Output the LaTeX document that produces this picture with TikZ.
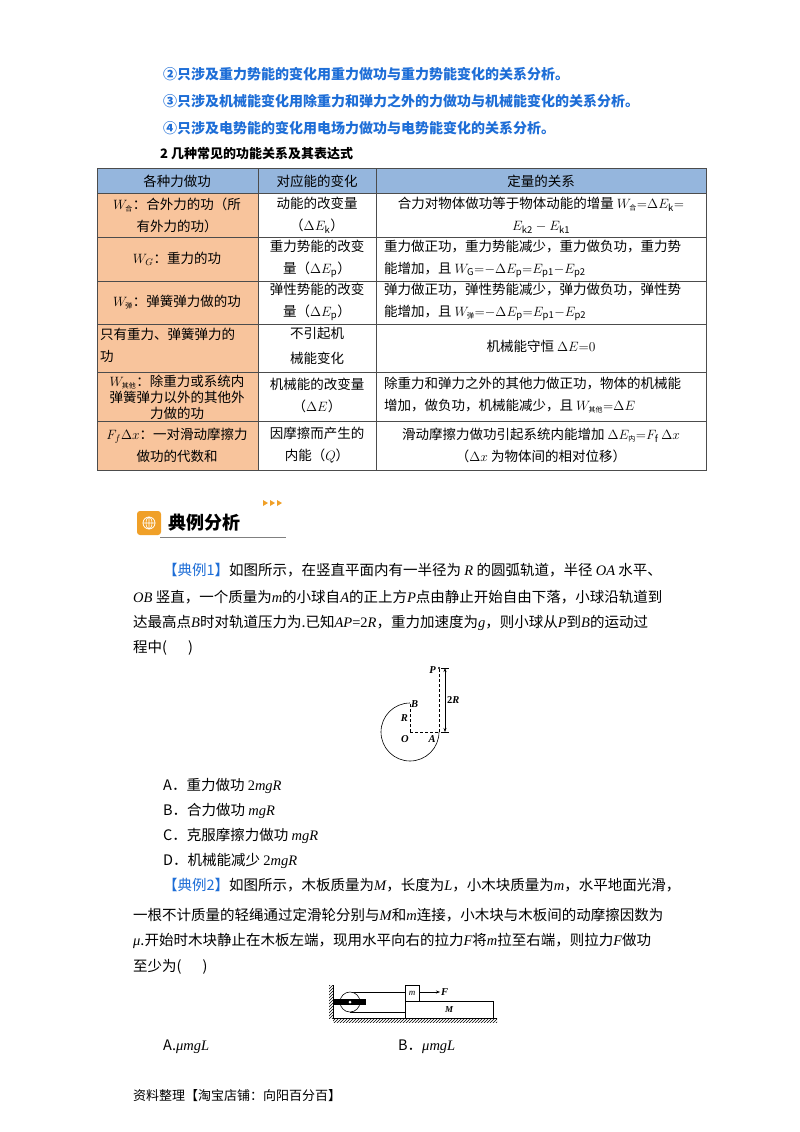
\RequirePackage{fix-cm}
\documentclass[tikz,border=0pt]{standalone}
\usepackage{fontspec}
\setmainfont{Noto Sans CJK SC}
\newfontfamily\tms{Liberation Serif}
\usetikzlibrary{patterns,arrows.meta}
\definecolor{blu}{RGB}{30,110,215}
\definecolor{hdr}{RGB}{149,182,221}
\definecolor{org}{RGB}{248,196,156}
\definecolor{badge}{RGB}{240,160,40}
\newcommand\cs[1]{\mbox{\fontsize{7}{7}\selectfont #1}}
\newcommand\iv[1]{{\tms\itshape #1}}
\newcommand\rv[1]{{\tms #1}}
\newcommand\bodyf{\fontsize{14.5}{18}\selectfont}
\newcommand\tabf{\fontsize{13.5}{22}\selectfont}
\tikzset{
 ln/.style={anchor=base west,inner sep=0pt,font=\bodyf},
 bl/.style={anchor=base west,inner sep=0pt,font=\fontsize{14}{18}\selectfont\bfseries,text=blu},
 cc/.style={align=center,inner sep=0pt,font=\tabf},
 cl/.style={align=left,inner sep=0pt,font=\tabf,anchor=west},
 dsh/.style={densely dashed,line width=0.6pt},
 fig/.style={font=\tms\fontsize{10.5}{12}\selectfont\bfseries\itshape,inner sep=1pt}
}
\begin{document}
\begin{tikzpicture}[x=1pt,y=-1pt]
\useasboundingbox[fill=white] (0,0) rectangle (800,1132);
% header lines
\node[bl] (h2) at (163,79) {②只涉及重力势能的变化用重力做功与重力势能变化的关系分析。};
\node[bl] (h3) at (163,106) {③只涉及机械能变化用除重力和弹力之外的力做功与机械能变化的关系分析。};
\node[bl] (h4) at (163,133) {④只涉及电势能的变化用电场力做功与电势能变化的关系分析。};
\node[anchor=base west,inner sep=0pt,font=\fontsize{13}{16}\selectfont\bfseries] (t2) at (160,158) {2 几种常见的功能关系及其表达式};
% table
\fill[hdr] (97,168) rectangle (706,193);
\fill[org] (97,193) rectangle (258,470);
\draw[line width=0.5pt,gray!60!black] (97,168) rectangle (706,470);
\foreach \y in {193,237,281,324,372,421} \draw[line width=0.5pt,gray!60!black] (97,\y)--(706,\y);
\foreach \x in {258,376} \draw[line width=0.5pt,gray!60!black] (\x,168)--(\x,470);
\node[cc] (a0) at (177,181) {各种力做功};
\node[cc] (b0) at (317,181) {对应能的变化};
\node[cc] (c0) at (541,181) {定量的关系};
\node[cc] (a1) at (177,215) {$W_{\cs{合}}$：合外力的功（所\\有外力的功）};
\node[cc] (b1) at (317,215) {动能的改变量\\（$\Delta E_{\rm k}$）};
\node[cc] (c1) at (541,215) {合力对物体做功等于物体动能的增量 $W_{\cs{合}}{=}\Delta E_{\rm k}{=}$\\$E_{\rm k2}-E_{\rm k1}$};
\node[cc] (a2) at (177,259) {$W_G$：重力的功};
\node[cc] (b2) at (317,259) {重力势能的改变\\量（$\Delta E_{\rm p}$）};
\node[cl] (c2) at (384,259) {重力做正功，重力势能减少，重力做负功，重力势\\能增加，且 $W_{\rm G}{=}{-}\Delta E_{\rm p}{=}E_{\rm p1}{-}E_{\rm p2}$};
\node[cc] (a3) at (177,302) {$W_{\cs{弹}}$：弹簧弹力做的功};
\node[cc] (b3) at (317,302) {弹性势能的改变\\量（$\Delta E_{\rm p}$）};
\node[cl] (c3) at (384,302) {弹力做正功，弹性势能减少，弹力做负功，弹性势\\能增加，且 $W_{\cs{弹}}{=}{-}\Delta E_{\rm p}{=}E_{\rm p1}{-}E_{\rm p2}$};
\node[cl] (a4) at (100,345) {只有重力、弹簧弹力的\\功};
\node[cc,font=\fontsize{13.5}{25}\selectfont] (b4) at (317,346) {不引起机\\械能变化};
\node[cc] (c4) at (541,346) {机械能守恒 $\Delta E{=}0$};
\node[cc,font=\fontsize{13.5}{16}\selectfont] (a5) at (177,397) {$W_{\cs{其他}}$：除重力或系统内\\弹簧弹力以外的其他外\\力做的功};
\node[cc] (b5) at (317,395) {机械能的改变量\\（$\Delta E$）};
\node[cl] (c5) at (384,395) {除重力和弹力之外的其他力做正功，物体的机械能\\增加，做负功，机械能减少，且 $W_{\cs{其他}}{=}\Delta E$};
\node[cc] (a6) at (177,445) {$F_f\Delta x$：一对滑动摩擦力\\做功的代数和};
\node[cc] (b6) at (317,445) {因摩擦而产生的\\内能（$Q$）};
\node[cc] (c6) at (541,445) {滑动摩擦力做功引起系统内能增加 $\Delta E_{\cs{内}}{=}F_{\rm f}\ \Delta x$\\（$\Delta x$ 为物体间的相对位移）};
% badge
\fill[badge,rounded corners=3pt] (137,511) rectangle (161,535);
\draw[white,line width=0.8pt] (149,523) circle (6);
\draw[white,line width=0.6pt] (149,517)--(149,529) (143,523)--(155,523) (149,523) ellipse (3 and 6);
\node[anchor=west,inner sep=0pt,font=\fontsize{18}{20}\selectfont\bfseries] (bt) at (168,523) {典例分析};
\draw[gray,line width=1pt] (160,537)--(286,537);
\foreach \x in {263,270,277} \fill[badge] (\x,500)--(\x+5,503)--(\x,506)--cycle;
% example 1
\node[ln] (e1a) at (163,575) {{\color{blu}【典例1】}如图所示，在竖直平面内有一半径为 \iv{R} 的圆弧轨道，半径 \iv{OA} 水平、};
\node[ln] (e1b) at (133,602) {\iv{OB} 竖直，一个质量为\iv{m}的小球自\iv{A}的正上方\iv{P}点由静止开始自由下落，小球沿轨道到};
\node[ln] (e1c) at (133,627) {达最高点\iv{B}时对轨道压力为.已知\iv{AP}\rv{=2}\iv{R}，重力加速度为\iv{g}，则小球从\iv{P}到\iv{B}的运动过};
\node[ln] (e1d) at (133,652) {程中(\quad\ \ )};
% figure 1
\coordinate (O) at (410,732);
\coordinate (A) at (439,732);
\coordinate (B) at (410,703);
\coordinate (P) at (439,668);
\draw[line width=0.6pt] (B) arc[start angle=-90,end angle=-360,radius=29];
\draw[dsh] (O)--(B) (O)--(A) (A)--(P);
\fill (P) circle (1.2);
\draw[{Stealth[length=4pt]}-{Stealth[length=4pt]},line width=0.5pt] (445,668)--(445,732);
\draw[line width=0.5pt] (441,668)--(449,668) (441,732)--(449,732);
\node[fig,anchor=east] (pl) at (437,670) {P};
\node[fig,anchor=west] (bl) at (410,704) {B};
\node[fig,anchor=east] (rl) at (409,718) {R};
\node[fig,anchor=north east] (ol) at (410,734) {O};
\node[fig,anchor=north] (al) at (432,734) {A};
\node[fig,anchor=west,font=\tms\fontsize{10.5}{12}\selectfont\bfseries] (tr) at (446,700) {2\textit{R}};
% options
\node[ln] (oa) at (163,790) {A．重力做功 \rv{2}\iv{mgR}};
\node[ln] (ob) at (163,815) {B．合力做功 \iv{mgR}};
\node[ln] (oc) at (163,840) {C．克服摩擦力做功 \iv{mgR}};
\node[ln] (od) at (163,865) {D．机械能减少 \rv{2}\iv{mgR}};
% example 2
\node[ln] (e2a) at (163,890) {{\color{blu}【典例2】}如图所示，木板质量为\iv{M}，长度为\iv{L}，小木块质量为\iv{m}，水平地面光滑，};
\node[ln] (e2b) at (133,920) {一根不计质量的轻绳通过定滑轮分别与\iv{M}和\iv{m}连接，小木块与木板间的动摩擦因数为};
\node[ln] (e2c) at (133,945) {\iv{μ}.开始时木块静止在木板左端，现用水平向右的拉力\iv{F}将\iv{m}拉至右端，则拉力\iv{F}做功};
\node[ln] (e2d) at (133,971) {至少为(\quad\ \ )};
% figure 2
\fill[pattern=north east lines] (333,1018) rectangle (497,1022);
\draw[line width=0.6pt] (333,1018)--(497,1018);
\fill[pattern=north east lines] (329,985) rectangle (333,1018);
\draw[line width=0.6pt] (333,985)--(333,1018);
\draw[line width=0.6pt] (405,1001) rectangle (493,1018);
\draw[line width=0.6pt] (405,985) rectangle (419,1001);
\draw[line width=0.5pt] (350,992)--(405,992) (350,1012)--(405,1012);
\fill[white] (350,1002) circle (10);
\draw[line width=0.6pt] (350,1002) circle (10);
\fill (334,999) rectangle (366,1005);
\fill[white] (350,1002) circle (1.5);
\node[fig,font=\tms\fontsize{9}{10}\selectfont\itshape] (ml) at (412,993) {m};
\node[fig,font=\tms\fontsize{9}{10}\selectfont\bfseries\itshape] (Ml) at (449,1010) {M};
\draw[-{Stealth[length=4pt]},line width=0.5pt] (419,992)--(440,992);
\node[fig,anchor=west] (fl) at (440,992) {F};
\node[ln] (pa) at (163,1050) {A.\iv{μmgL}};
\node[ln] (pb) at (398,1050) {B．\iv{μmgL}};
\node[ln,font=\fontsize{13}{16}\selectfont] (ft) at (133,1100) {资料整理【淘宝店铺：向阳百分百】};
\end{tikzpicture}
\end{document}
